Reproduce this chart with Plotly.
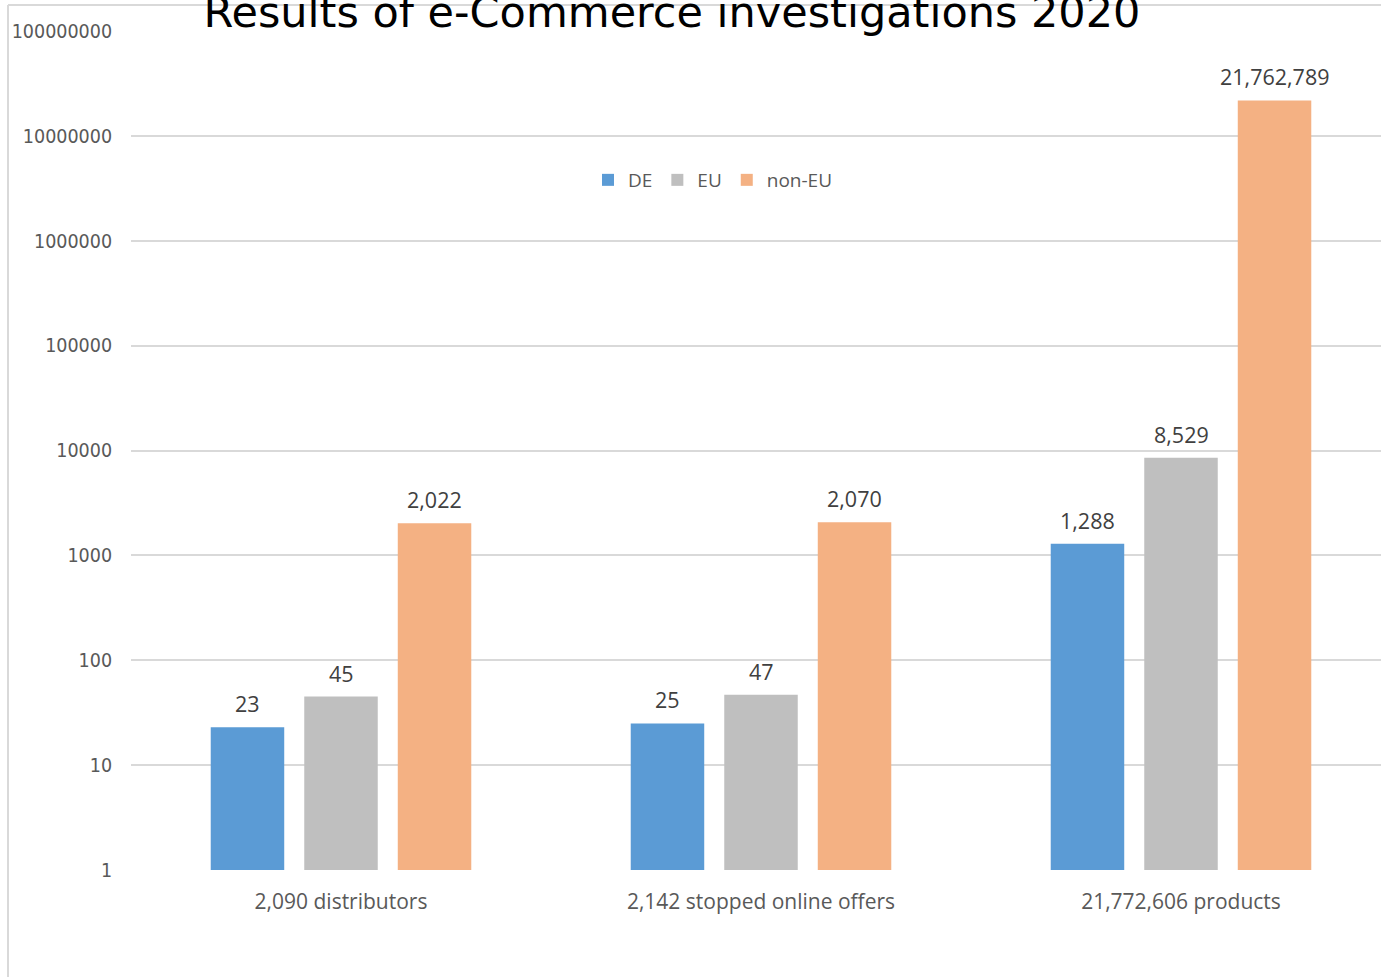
import math
import plotly.graph_objects as go

# Data
categories = ["2,090 distributors", "2,142 stopped online offers", "21,772,606 products"]
series_names = ["DE", "EU", "non-EU"]
de_values = [23, 25, 1288]
eu_values = [45, 47, 8529]
noneu_values = [2022, 2070, 21762789]
series_values = [de_values, eu_values, noneu_values]
series_colors = ["#5B9BD5", "#BFBFBF", "#F4B183"]

y_tickvals = [1, 10, 100, 1000, 10000, 100000, 1000000, 10000000, 100000000]
y_ticktext = [str(v) for v in y_tickvals]

title_text = "Results of e-Commerce investigations 2020"

W, H = 1381, 977
ML, MR, MT, MB = 131, 0, 31, 107
plot_w = W - ML - MR
plot_h = H - MT - MB
cat_px = 420.0  # pixel width of one category band

LABEL_FONT = "Open Sans"

fig = go.Figure()
for name, vals, col in zip(series_names, series_values, series_colors):
    fig.add_trace(go.Bar(
        x=categories, y=vals, name=name,
        marker=dict(color=col, line=dict(width=0)),
        hoverinfo="x+y+name",
    ))

# value labels above each bar
pitch = 93.5
for i, vals in enumerate(series_values):
    for c, v in zip(categories, vals):
        fig.add_annotation(
            x=c, y=math.log10(v), xref="x", yref="y",
            text=f"{v:,}", showarrow=False,
            xshift=(i - 1) * pitch, yshift=7, yanchor="bottom",
            font=dict(family=LABEL_FONT, size=21.5, color="#404040"),
        )

# outer chart frame (left and top edges)
fx = (8 - ML) / plot_w
y_top = (H - MB - 5) / plot_h
fig.add_shape(type="line", xref="paper", yref="paper",
              x0=fx, x1=fx, y0=-(MB + 10) / plot_h, y1=y_top,
              line=dict(color="#D9D9D9", width=2))
fig.add_shape(type="line", xref="paper", yref="paper",
              x0=fx, x1=1.05, y0=y_top, y1=y_top,
              line=dict(color="#D9D9D9", width=2))

fig.update_layout(
    width=W, height=H,
    margin=dict(l=ML, r=MR, t=MT, b=MB, pad=0),
    paper_bgcolor="white", plot_bgcolor="white",
    barmode="group", bargap=0.332, bargroupgap=0.214,
    title=dict(text=title_text, x=672 / W, xanchor="center",
               y=1 - 27 / H, yanchor="bottom",
               font=dict(family="DejaVu Sans", size=43, color="black")),
    legend=dict(orientation="h", x=(713 - ML) / plot_w, xanchor="center",
                y=(H - MB - 180) / plot_h, yanchor="middle",
                font=dict(family=LABEL_FONT, size=19, color="#595959"),
                bgcolor="rgba(0,0,0,0)", itemwidth=30),
    showlegend=True,
)
fig.update_xaxes(
    range=[-0.5, -0.5 + plot_w / cat_px],
    showgrid=False, zeroline=False, showline=False,
    ticks="outside", ticklen=0, ticklabelstandoff=13,
    tickfont=dict(family=LABEL_FONT, size=21, color="#595959"),
)
fig.update_yaxes(
    type="log", range=[0, 8],
    tickvals=y_tickvals, ticktext=y_ticktext,
    showgrid=True, gridcolor="#D9D9D9", gridwidth=2,
    zeroline=False, showline=False,
    ticks="outside", ticklen=0, ticklabelstandoff=14,
    tickfont=dict(family="DejaVu Sans Condensed", size=19.5, color="#595959"),
)

fig.write_html("out.html")
